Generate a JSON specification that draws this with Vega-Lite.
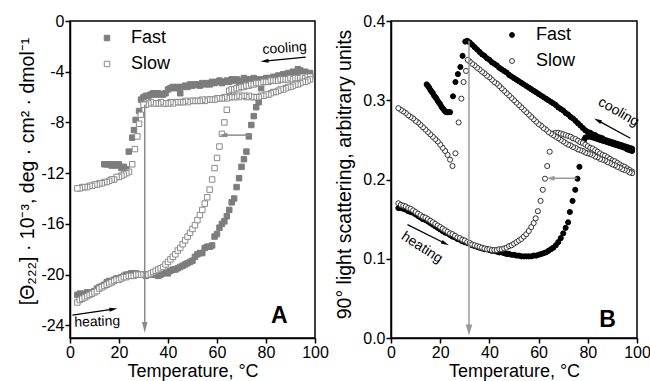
{
  "$schema": "https://vega.github.io/schema/vega-lite/v6.json",
  "padding": {"left": 16, "top": 12, "right": 2, "bottom": 0},
  "config": {
    "font": "Liberation Sans",
    "view": {"stroke": "black", "strokeWidth": 1.5},
    "axis": {"grid": false, "labelFontSize": 16, "titleFontSize": 18, "titleFontWeight": "normal", "labelColor": "black", "titleColor": "black", "domainColor": "black", "tickColor": "black", "domainWidth": 1.5, "tickWidth": 1.5, "tickSize": 5, "labelPadding": 1, "labelFlush": false, "titlePadding": 2},
    "legend": {"symbolStrokeWidth": 1, "labelFontSize": 18, "rowPadding": 8, "labelOffset": 15, "labelColor": "black", "padding": 0, "title": null}
  },
  "datasets": {
    "a": [
      {"series":"Fast","temp":3,"val":-21.6},{"series":"Fast","temp":4,"val":-21.5},{"series":"Fast","temp":5,"val":-21.6},{"series":"Fast","temp":6,"val":-21.5},{"series":"Fast","temp":7,"val":-21.4},{"series":"Fast","temp":8,"val":-21.5},{"series":"Fast","temp":9,"val":-21.4},{"series":"Fast","temp":10,"val":-21.3},{"series":"Fast","temp":11,"val":-21.1},{"series":"Fast","temp":12,"val":-21.0},{"series":"Fast","temp":13,"val":-20.9},{"series":"Fast","temp":14,"val":-20.8},{"series":"Fast","temp":15,"val":-20.6},{"series":"Fast","temp":16,"val":-20.5},{"series":"Fast","temp":17,"val":-20.6},{"series":"Fast","temp":18,"val":-20.4},{"series":"Fast","temp":19,"val":-20.3},{"series":"Fast","temp":20,"val":-20.3},{"series":"Fast","temp":21,"val":-20.2},{"series":"Fast","temp":22,"val":-20.1},{"series":"Fast","temp":23,"val":-20.0},{"series":"Fast","temp":24,"val":-20.0},{"series":"Fast","temp":25,"val":-19.9},{"series":"Fast","temp":26,"val":-19.9},{"series":"Fast","temp":27,"val":-19.9},{"series":"Fast","temp":28,"val":-20.0},{"series":"Fast","temp":29,"val":-20.0},{"series":"Fast","temp":30,"val":-20.0},{"series":"Fast","temp":31,"val":-20.1},{"series":"Fast","temp":32,"val":-20.0},{"series":"Fast","temp":33,"val":-20.0},{"series":"Fast","temp":34,"val":-20.0},{"series":"Fast","temp":35,"val":-20.0},{"series":"Fast","temp":36,"val":-20.1},{"series":"Fast","temp":37,"val":-20.0},{"series":"Fast","temp":38,"val":-19.9},{"series":"Fast","temp":39,"val":-19.8},{"series":"Fast","temp":40,"val":-19.9},{"series":"Fast","temp":41,"val":-19.7},{"series":"Fast","temp":42,"val":-19.6},{"series":"Fast","temp":43,"val":-19.6},{"series":"Fast","temp":44,"val":-19.5},{"series":"Fast","temp":45,"val":-19.4},{"series":"Fast","temp":46,"val":-19.3},{"series":"Fast","temp":47,"val":-19.2},{"series":"Fast","temp":48,"val":-19.1},{"series":"Fast","temp":49,"val":-19.0},{"series":"Fast","temp":50,"val":-18.9},{"series":"Fast","temp":51,"val":-18.6},{"series":"Fast","temp":52,"val":-18.4},{"series":"Fast","temp":53,"val":-18.3},{"series":"Fast","temp":54,"val":-18.3},{"series":"Fast","temp":55,"val":-17.9},{"series":"Fast","temp":56,"val":-17.8},{"series":"Fast","temp":57,"val":-17.8},{"series":"Fast","temp":58,"val":-17.7},{"series":"Fast","temp":59,"val":-17.0},{"series":"Fast","temp":60,"val":-16.8},{"series":"Fast","temp":61,"val":-16.3},{"series":"Fast","temp":62,"val":-16.0},{"series":"Fast","temp":63,"val":-15.8},{"series":"Fast","temp":64,"val":-15.4},{"series":"Fast","temp":65,"val":-14.9},{"series":"Fast","temp":66,"val":-14.3},{"series":"Fast","temp":67,"val":-14.0},{"series":"Fast","temp":68,"val":-13.1},{"series":"Fast","temp":69,"val":-12.4},{"series":"Fast","temp":70,"val":-11.5},{"series":"Fast","temp":71,"val":-10.9},{"series":"Fast","temp":72,"val":-10.3},{"series":"Fast","temp":73,"val":-9.1},{"series":"Fast","temp":74,"val":-8.2},{"series":"Fast","temp":75,"val":-7.5},{"series":"Fast","temp":76,"val":-6.8},{"series":"Fast","temp":77,"val":-6.4},{"series":"Fast","temp":78,"val":-5.3},{"series":"Fast","temp":79,"val":-4.8},{"series":"Fast","temp":80,"val":-4.6},{"series":"Fast","temp":81,"val":-4.5},{"series":"Fast","temp":82,"val":-4.6},{"series":"Fast","temp":83,"val":-4.4},{"series":"Fast","temp":84,"val":-4.5},{"series":"Fast","temp":85,"val":-4.3},{"series":"Fast","temp":86,"val":-4.4},{"series":"Fast","temp":87,"val":-4.2},{"series":"Fast","temp":88,"val":-4.3},{"series":"Fast","temp":89,"val":-4.1},{"series":"Fast","temp":90,"val":-4.2},{"series":"Fast","temp":91,"val":-4.0},{"series":"Fast","temp":92,"val":-4.1},{"series":"Fast","temp":93,"val":-3.8},{"series":"Fast","temp":94,"val":-3.9},{"series":"Fast","temp":95,"val":-4.1},{"series":"Fast","temp":96,"val":-4.0},{"series":"Fast","temp":97,"val":-4.2},{"series":"Fast","temp":98,"val":-4.1},
      {"series":"Fast","temp":98,"val":-4.3},{"series":"Fast","temp":97,"val":-4.4},{"series":"Fast","temp":96,"val":-4.2},{"series":"Fast","temp":95,"val":-4.3},{"series":"Fast","temp":94,"val":-4.1},{"series":"Fast","temp":93,"val":-4.2},{"series":"Fast","temp":92,"val":-4.3},{"series":"Fast","temp":91,"val":-4.4},{"series":"Fast","temp":90,"val":-4.3},{"series":"Fast","temp":89,"val":-4.4},{"series":"Fast","temp":88,"val":-4.5},{"series":"Fast","temp":87,"val":-4.4},{"series":"Fast","temp":86,"val":-4.5},{"series":"Fast","temp":85,"val":-4.6},{"series":"Fast","temp":84,"val":-4.5},{"series":"Fast","temp":83,"val":-4.6},{"series":"Fast","temp":82,"val":-4.7},{"series":"Fast","temp":81,"val":-4.6},{"series":"Fast","temp":80,"val":-4.5},{"series":"Fast","temp":79,"val":-4.7},{"series":"Fast","temp":78,"val":-4.6},{"series":"Fast","temp":77,"val":-4.7},{"series":"Fast","temp":76,"val":-4.6},{"series":"Fast","temp":75,"val":-4.5},{"series":"Fast","temp":74,"val":-4.6},{"series":"Fast","temp":73,"val":-4.7},{"series":"Fast","temp":72,"val":-4.6},{"series":"Fast","temp":71,"val":-4.5},{"series":"Fast","temp":70,"val":-4.7},{"series":"Fast","temp":69,"val":-4.8},{"series":"Fast","temp":68,"val":-4.6},{"series":"Fast","temp":67,"val":-4.7},{"series":"Fast","temp":66,"val":-4.6},{"series":"Fast","temp":65,"val":-4.8},{"series":"Fast","temp":64,"val":-4.7},{"series":"Fast","temp":63,"val":-4.8},{"series":"Fast","temp":62,"val":-4.9},{"series":"Fast","temp":61,"val":-4.7},{"series":"Fast","temp":60,"val":-4.8},{"series":"Fast","temp":59,"val":-4.9},{"series":"Fast","temp":58,"val":-4.8},{"series":"Fast","temp":57,"val":-5.0},{"series":"Fast","temp":56,"val":-4.9},{"series":"Fast","temp":55,"val":-5.0},{"series":"Fast","temp":54,"val":-4.9},{"series":"Fast","temp":53,"val":-5.1},{"series":"Fast","temp":52,"val":-5.0},{"series":"Fast","temp":51,"val":-5.0},{"series":"Fast","temp":50,"val":-5.1},{"series":"Fast","temp":49,"val":-5.0},{"series":"Fast","temp":48,"val":-5.2},{"series":"Fast","temp":47,"val":-5.1},{"series":"Fast","temp":46,"val":-5.2},{"series":"Fast","temp":45,"val":-5.7},{"series":"Fast","temp":44,"val":-5.2},{"series":"Fast","temp":43,"val":-5.3},{"series":"Fast","temp":42,"val":-5.2},{"series":"Fast","temp":41,"val":-5.3},{"series":"Fast","temp":40,"val":-5.4},{"series":"Fast","temp":39,"val":-5.7},{"series":"Fast","temp":38,"val":-5.8},{"series":"Fast","temp":37,"val":-5.8},{"series":"Fast","temp":36,"val":-5.7},{"series":"Fast","temp":35,"val":-5.8},{"series":"Fast","temp":34,"val":-5.7},{"series":"Fast","temp":33,"val":-5.8},{"series":"Fast","temp":32,"val":-5.9},{"series":"Fast","temp":31,"val":-5.9},{"series":"Fast","temp":30,"val":-6.0},{"series":"Fast","temp":29,"val":-6.2},{"series":"Fast","temp":28.2,"val":-7.1},{"series":"Fast","temp":26.8,"val":-7.8},{"series":"Fast","temp":26.1,"val":-8.6},{"series":"Fast","temp":25.4,"val":-9.2},{"series":"Fast","temp":24.0,"val":-10.3},{"series":"Fast","temp":23,"val":-11.7},{"series":"Fast","temp":22,"val":-11.5},{"series":"Fast","temp":21,"val":-11.6},{"series":"Fast","temp":20,"val":-11.3},{"series":"Fast","temp":19,"val":-11.4},{"series":"Fast","temp":18,"val":-11.3},{"series":"Fast","temp":17,"val":-11.4},{"series":"Fast","temp":16,"val":-11.3},{"series":"Fast","temp":15,"val":-11.3},{"series":"Fast","temp":14,"val":-11.3},
      {"series":"Slow","temp":3,"val":-22.2},{"series":"Slow","temp":4,"val":-22.0},{"series":"Slow","temp":5,"val":-21.9},{"series":"Slow","temp":6,"val":-21.8},{"series":"Slow","temp":7,"val":-21.7},{"series":"Slow","temp":8,"val":-21.6},{"series":"Slow","temp":9,"val":-21.5},{"series":"Slow","temp":10,"val":-21.4},{"series":"Slow","temp":11,"val":-21.3},{"series":"Slow","temp":12,"val":-21.1},{"series":"Slow","temp":13,"val":-21.0},{"series":"Slow","temp":14,"val":-20.9},{"series":"Slow","temp":15,"val":-20.8},{"series":"Slow","temp":16,"val":-20.7},{"series":"Slow","temp":17,"val":-20.6},{"series":"Slow","temp":18,"val":-20.5},{"series":"Slow","temp":19,"val":-20.4},{"series":"Slow","temp":20,"val":-20.4},{"series":"Slow","temp":21,"val":-20.3},{"series":"Slow","temp":22,"val":-20.2},{"series":"Slow","temp":23,"val":-20.2},{"series":"Slow","temp":24,"val":-20.1},{"series":"Slow","temp":25,"val":-20.1},{"series":"Slow","temp":26,"val":-20.1},{"series":"Slow","temp":27,"val":-20.0},{"series":"Slow","temp":28,"val":-20.0},{"series":"Slow","temp":29,"val":-20.0},{"series":"Slow","temp":30,"val":-20.0},{"series":"Slow","temp":31,"val":-20.0},{"series":"Slow","temp":32,"val":-20.0},{"series":"Slow","temp":33,"val":-19.9},{"series":"Slow","temp":34,"val":-19.8},{"series":"Slow","temp":35,"val":-19.7},{"series":"Slow","temp":36,"val":-19.6},{"series":"Slow","temp":37,"val":-19.5},{"series":"Slow","temp":38,"val":-19.4},{"series":"Slow","temp":39,"val":-19.2},{"series":"Slow","temp":40,"val":-19.0},{"series":"Slow","temp":41,"val":-18.8},{"series":"Slow","temp":42,"val":-18.6},{"series":"Slow","temp":43,"val":-18.4},{"series":"Slow","temp":44,"val":-18.1},{"series":"Slow","temp":45,"val":-17.9},{"series":"Slow","temp":46,"val":-17.6},{"series":"Slow","temp":47,"val":-17.3},{"series":"Slow","temp":48,"val":-17.0},{"series":"Slow","temp":49,"val":-16.7},{"series":"Slow","temp":50,"val":-16.4},{"series":"Slow","temp":51,"val":-16.1},{"series":"Slow","temp":52,"val":-15.7},{"series":"Slow","temp":53,"val":-15.3},{"series":"Slow","temp":54,"val":-14.9},{"series":"Slow","temp":55,"val":-14.4},{"series":"Slow","temp":56,"val":-13.9},{"series":"Slow","temp":57,"val":-13.3},{"series":"Slow","temp":58,"val":-12.5},{"series":"Slow","temp":59,"val":-11.6},{"series":"Slow","temp":60,"val":-10.8},{"series":"Slow","temp":61,"val":-9.9},{"series":"Slow","temp":62,"val":-8.9},{"series":"Slow","temp":63,"val":-8.0},{"series":"Slow","temp":64,"val":-7.0},
      {"series":"Slow","temp":65,"val":-5.5},{"series":"Slow","temp":66,"val":-5.4},{"series":"Slow","temp":67,"val":-5.4},{"series":"Slow","temp":68,"val":-5.3},{"series":"Slow","temp":69,"val":-5.3},{"series":"Slow","temp":70,"val":-5.2},{"series":"Slow","temp":71,"val":-5.2},{"series":"Slow","temp":72,"val":-5.1},{"series":"Slow","temp":73,"val":-5.1},{"series":"Slow","temp":74,"val":-5.0},{"series":"Slow","temp":75,"val":-5.0},{"series":"Slow","temp":76,"val":-4.9},{"series":"Slow","temp":77,"val":-4.9},{"series":"Slow","temp":78,"val":-4.9},{"series":"Slow","temp":79,"val":-4.8},{"series":"Slow","temp":80,"val":-4.8},{"series":"Slow","temp":81,"val":-4.8},{"series":"Slow","temp":82,"val":-4.7},{"series":"Slow","temp":83,"val":-4.7},{"series":"Slow","temp":84,"val":-4.7},{"series":"Slow","temp":85,"val":-4.7},{"series":"Slow","temp":86,"val":-4.6},{"series":"Slow","temp":87,"val":-4.6},{"series":"Slow","temp":88,"val":-4.6},{"series":"Slow","temp":89,"val":-4.6},{"series":"Slow","temp":90,"val":-4.5},{"series":"Slow","temp":91,"val":-4.6},{"series":"Slow","temp":92,"val":-4.5},{"series":"Slow","temp":93,"val":-4.5},{"series":"Slow","temp":94,"val":-4.5},{"series":"Slow","temp":95,"val":-4.4},{"series":"Slow","temp":96,"val":-4.5},{"series":"Slow","temp":97,"val":-4.4},{"series":"Slow","temp":98,"val":-4.4},
      {"series":"Slow","temp":98,"val":-4.6},{"series":"Slow","temp":97,"val":-4.7},{"series":"Slow","temp":96,"val":-4.8},{"series":"Slow","temp":95,"val":-4.8},{"series":"Slow","temp":94,"val":-4.9},{"series":"Slow","temp":93,"val":-5.0},{"series":"Slow","temp":92,"val":-5.0},{"series":"Slow","temp":91,"val":-5.1},{"series":"Slow","temp":90,"val":-5.2},{"series":"Slow","temp":89,"val":-5.2},{"series":"Slow","temp":88,"val":-5.3},{"series":"Slow","temp":87,"val":-5.4},{"series":"Slow","temp":86,"val":-5.4},{"series":"Slow","temp":85,"val":-5.5},{"series":"Slow","temp":84,"val":-5.6},{"series":"Slow","temp":83,"val":-5.6},{"series":"Slow","temp":82,"val":-5.7},{"series":"Slow","temp":81,"val":-5.8},{"series":"Slow","temp":80,"val":-5.8},{"series":"Slow","temp":79,"val":-5.9},{"series":"Slow","temp":78,"val":-5.9},{"series":"Slow","temp":77,"val":-6.0},{"series":"Slow","temp":76,"val":-6.0},{"series":"Slow","temp":75,"val":-6.0},{"series":"Slow","temp":74,"val":-6.0},{"series":"Slow","temp":73,"val":-5.9},{"series":"Slow","temp":72,"val":-6.0},{"series":"Slow","temp":71,"val":-5.9},{"series":"Slow","temp":70,"val":-5.9},{"series":"Slow","temp":69,"val":-6.0},{"series":"Slow","temp":68,"val":-5.9},{"series":"Slow","temp":67,"val":-6.0},{"series":"Slow","temp":66,"val":-6.0},{"series":"Slow","temp":65,"val":-6.0},{"series":"Slow","temp":64,"val":-6.1},{"series":"Slow","temp":63,"val":-6.0},{"series":"Slow","temp":62,"val":-6.1},{"series":"Slow","temp":61,"val":-6.1},{"series":"Slow","temp":60,"val":-6.1},{"series":"Slow","temp":59,"val":-6.2},{"series":"Slow","temp":58,"val":-6.2},{"series":"Slow","temp":57,"val":-6.2},{"series":"Slow","temp":56,"val":-6.2},{"series":"Slow","temp":55,"val":-6.3},{"series":"Slow","temp":54,"val":-6.2},{"series":"Slow","temp":53,"val":-6.3},{"series":"Slow","temp":52,"val":-6.3},{"series":"Slow","temp":51,"val":-6.3},{"series":"Slow","temp":50,"val":-6.3},{"series":"Slow","temp":49,"val":-6.3},{"series":"Slow","temp":48,"val":-6.4},{"series":"Slow","temp":47,"val":-6.3},{"series":"Slow","temp":46,"val":-6.4},{"series":"Slow","temp":45,"val":-6.4},{"series":"Slow","temp":44,"val":-6.4},{"series":"Slow","temp":43,"val":-6.4},{"series":"Slow","temp":42,"val":-6.5},{"series":"Slow","temp":41,"val":-6.4},{"series":"Slow","temp":40,"val":-6.5},{"series":"Slow","temp":39,"val":-6.5},{"series":"Slow","temp":38,"val":-6.5},{"series":"Slow","temp":37,"val":-6.4},{"series":"Slow","temp":36,"val":-6.5},{"series":"Slow","temp":35,"val":-6.5},{"series":"Slow","temp":34,"val":-6.5},{"series":"Slow","temp":33,"val":-6.4},{"series":"Slow","temp":32,"val":-6.5},{"series":"Slow","temp":31,"val":-6.6},{"series":"Slow","temp":30,"val":-6.6},{"series":"Slow","temp":28.9,"val":-7.4},{"series":"Slow","temp":28.2,"val":-8.1},{"series":"Slow","temp":27.5,"val":-9.1},{"series":"Slow","temp":26.5,"val":-10.1},{"series":"Slow","temp":25.4,"val":-11.3},{"series":"Slow","temp":24.1,"val":-11.9},{"series":"Slow","temp":23,"val":-12.0},{"series":"Slow","temp":22,"val":-12.1},{"series":"Slow","temp":21,"val":-12.2},{"series":"Slow","temp":20,"val":-12.3},{"series":"Slow","temp":19,"val":-12.3},{"series":"Slow","temp":18,"val":-12.5},{"series":"Slow","temp":17,"val":-12.5},{"series":"Slow","temp":16,"val":-12.6},{"series":"Slow","temp":15,"val":-12.7},{"series":"Slow","temp":14,"val":-12.7},{"series":"Slow","temp":13,"val":-12.8},{"series":"Slow","temp":12,"val":-12.8},{"series":"Slow","temp":11,"val":-12.9},{"series":"Slow","temp":10,"val":-12.9},{"series":"Slow","temp":9,"val":-13.0},{"series":"Slow","temp":8,"val":-13.0},{"series":"Slow","temp":7,"val":-13.1},{"series":"Slow","temp":6,"val":-13.1},{"series":"Slow","temp":5,"val":-13.1},{"series":"Slow","temp":4,"val":-13.2},{"series":"Slow","temp":3,"val":-13.2}
    ],
    "b": [
      {"series":"Fast","temp":3,"val":0.164},{"series":"Fast","temp":4,"val":0.164},{"series":"Fast","temp":5,"val":0.163},{"series":"Fast","temp":6,"val":0.162},{"series":"Fast","temp":7,"val":0.160},{"series":"Fast","temp":8,"val":0.159},{"series":"Fast","temp":9,"val":0.158},{"series":"Fast","temp":10,"val":0.156},{"series":"Fast","temp":11,"val":0.154},{"series":"Fast","temp":12,"val":0.152},{"series":"Fast","temp":13,"val":0.150},{"series":"Fast","temp":14,"val":0.149},{"series":"Fast","temp":15,"val":0.147},{"series":"Fast","temp":16,"val":0.145},{"series":"Fast","temp":17,"val":0.143},{"series":"Fast","temp":18,"val":0.141},{"series":"Fast","temp":19,"val":0.139},{"series":"Fast","temp":20,"val":0.137},{"series":"Fast","temp":21,"val":0.135},{"series":"Fast","temp":22,"val":0.133},{"series":"Fast","temp":23,"val":0.132},{"series":"Fast","temp":24,"val":0.130},{"series":"Fast","temp":25,"val":0.128},{"series":"Fast","temp":26,"val":0.127},{"series":"Fast","temp":27,"val":0.125},{"series":"Fast","temp":28,"val":0.124},{"series":"Fast","temp":29,"val":0.122},{"series":"Fast","temp":30,"val":0.121},{"series":"Fast","temp":31,"val":0.120},{"series":"Fast","temp":32,"val":0.119},{"series":"Fast","temp":33,"val":0.117},{"series":"Fast","temp":34,"val":0.116},{"series":"Fast","temp":35,"val":0.115},{"series":"Fast","temp":36,"val":0.114},{"series":"Fast","temp":37,"val":0.113},{"series":"Fast","temp":38,"val":0.112},{"series":"Fast","temp":39,"val":0.112},{"series":"Fast","temp":40,"val":0.111},{"series":"Fast","temp":41,"val":0.110},{"series":"Fast","temp":42,"val":0.110},{"series":"Fast","temp":43,"val":0.109},{"series":"Fast","temp":44,"val":0.108},{"series":"Fast","temp":45,"val":0.108},{"series":"Fast","temp":46,"val":0.107},{"series":"Fast","temp":47,"val":0.106},{"series":"Fast","temp":48,"val":0.106},{"series":"Fast","temp":49,"val":0.105},{"series":"Fast","temp":50,"val":0.105},{"series":"Fast","temp":51,"val":0.104},{"series":"Fast","temp":52,"val":0.104},{"series":"Fast","temp":53,"val":0.103},{"series":"Fast","temp":54,"val":0.103},{"series":"Fast","temp":55,"val":0.103},{"series":"Fast","temp":56,"val":0.103},{"series":"Fast","temp":57,"val":0.103},{"series":"Fast","temp":58,"val":0.104},{"series":"Fast","temp":59,"val":0.104},{"series":"Fast","temp":60,"val":0.105},{"series":"Fast","temp":61,"val":0.106},{"series":"Fast","temp":62,"val":0.107},{"series":"Fast","temp":63,"val":0.108},{"series":"Fast","temp":64,"val":0.110},{"series":"Fast","temp":65,"val":0.112},{"series":"Fast","temp":66,"val":0.114},{"series":"Fast","temp":67,"val":0.117},{"series":"Fast","temp":68,"val":0.121},{"series":"Fast","temp":69,"val":0.126},{"series":"Fast","temp":70,"val":0.132},{"series":"Fast","temp":71,"val":0.139},{"series":"Fast","temp":72,"val":0.146},{"series":"Fast","temp":72.7,"val":0.159},{"series":"Fast","temp":73.8,"val":0.173},{"series":"Fast","temp":74.9,"val":0.187},{"series":"Fast","temp":75.8,"val":0.201},{"series":"Fast","temp":76.6,"val":0.216},{"series":"Fast","temp":78.5,"val":0.250},{"series":"Fast","temp":79,"val":0.253},{"series":"Fast","temp":80,"val":0.254},{"series":"Fast","temp":81,"val":0.254},{"series":"Fast","temp":82,"val":0.253},{"series":"Fast","temp":83,"val":0.252},{"series":"Fast","temp":84,"val":0.251},{"series":"Fast","temp":85,"val":0.250},{"series":"Fast","temp":86,"val":0.249},{"series":"Fast","temp":87,"val":0.248},{"series":"Fast","temp":88,"val":0.247},{"series":"Fast","temp":89,"val":0.246},{"series":"Fast","temp":90,"val":0.245},{"series":"Fast","temp":91,"val":0.244},{"series":"Fast","temp":92,"val":0.243},{"series":"Fast","temp":93,"val":0.242},{"series":"Fast","temp":94,"val":0.241},{"series":"Fast","temp":95,"val":0.240},{"series":"Fast","temp":96,"val":0.238},{"series":"Fast","temp":97,"val":0.237},{"series":"Fast","temp":98,"val":0.236},
      {"series":"Fast","temp":98,"val":0.239},{"series":"Fast","temp":97,"val":0.240},{"series":"Fast","temp":96,"val":0.241},{"series":"Fast","temp":95,"val":0.242},{"series":"Fast","temp":94,"val":0.243},{"series":"Fast","temp":93,"val":0.244},{"series":"Fast","temp":92,"val":0.245},{"series":"Fast","temp":91,"val":0.246},{"series":"Fast","temp":90,"val":0.247},{"series":"Fast","temp":89,"val":0.248},{"series":"Fast","temp":88,"val":0.249},{"series":"Fast","temp":87,"val":0.250},{"series":"Fast","temp":86,"val":0.252},{"series":"Fast","temp":85,"val":0.253},{"series":"Fast","temp":84,"val":0.254},{"series":"Fast","temp":83,"val":0.256},{"series":"Fast","temp":82,"val":0.257},{"series":"Fast","temp":81,"val":0.259},{"series":"Fast","temp":80,"val":0.260},{"series":"Fast","temp":79,"val":0.262},{"series":"Fast","temp":78,"val":0.265},{"series":"Fast","temp":77,"val":0.268},{"series":"Fast","temp":76,"val":0.271},{"series":"Fast","temp":75,"val":0.274},{"series":"Fast","temp":74,"val":0.277},{"series":"Fast","temp":73,"val":0.279},{"series":"Fast","temp":72,"val":0.282},{"series":"Fast","temp":71,"val":0.284},{"series":"Fast","temp":70,"val":0.287},{"series":"Fast","temp":69,"val":0.289},{"series":"Fast","temp":68,"val":0.291},{"series":"Fast","temp":67,"val":0.294},{"series":"Fast","temp":66,"val":0.296},{"series":"Fast","temp":65,"val":0.298},{"series":"Fast","temp":64,"val":0.300},{"series":"Fast","temp":63,"val":0.302},{"series":"Fast","temp":62,"val":0.304},{"series":"Fast","temp":61,"val":0.306},{"series":"Fast","temp":60,"val":0.308},{"series":"Fast","temp":59,"val":0.310},{"series":"Fast","temp":58,"val":0.312},{"series":"Fast","temp":57,"val":0.314},{"series":"Fast","temp":56,"val":0.316},{"series":"Fast","temp":55,"val":0.318},{"series":"Fast","temp":54,"val":0.320},{"series":"Fast","temp":53,"val":0.322},{"series":"Fast","temp":52,"val":0.324},{"series":"Fast","temp":51,"val":0.326},{"series":"Fast","temp":50,"val":0.328},{"series":"Fast","temp":49,"val":0.330},{"series":"Fast","temp":48,"val":0.332},{"series":"Fast","temp":47,"val":0.335},{"series":"Fast","temp":46,"val":0.337},{"series":"Fast","temp":45,"val":0.339},{"series":"Fast","temp":44,"val":0.341},{"series":"Fast","temp":43,"val":0.344},{"series":"Fast","temp":42,"val":0.346},{"series":"Fast","temp":41,"val":0.348},{"series":"Fast","temp":40,"val":0.351},{"series":"Fast","temp":39,"val":0.353},{"series":"Fast","temp":38,"val":0.356},{"series":"Fast","temp":37,"val":0.358},{"series":"Fast","temp":36,"val":0.361},{"series":"Fast","temp":35,"val":0.364},{"series":"Fast","temp":34,"val":0.367},{"series":"Fast","temp":33,"val":0.370},{"series":"Fast","temp":32,"val":0.373},{"series":"Fast","temp":31,"val":0.375},{"series":"Fast","temp":30.2,"val":0.374},{"series":"Fast","temp":29.1,"val":0.356},{"series":"Fast","temp":28.2,"val":0.342},{"series":"Fast","temp":27.2,"val":0.333},{"series":"Fast","temp":26.2,"val":0.323},{"series":"Fast","temp":25.2,"val":0.305},{"series":"Fast","temp":24,"val":0.285},{"series":"Fast","temp":23.5,"val":0.285},{"series":"Fast","temp":23,"val":0.285},{"series":"Fast","temp":22.5,"val":0.285},{"series":"Fast","temp":22,"val":0.286},{"series":"Fast","temp":21.5,"val":0.288},{"series":"Fast","temp":21,"val":0.290},{"series":"Fast","temp":20.5,"val":0.292},{"series":"Fast","temp":20,"val":0.295},{"series":"Fast","temp":19.5,"val":0.297},{"series":"Fast","temp":19,"val":0.299},{"series":"Fast","temp":18.5,"val":0.302},{"series":"Fast","temp":18,"val":0.304},{"series":"Fast","temp":17.5,"val":0.306},{"series":"Fast","temp":17,"val":0.309},{"series":"Fast","temp":16.5,"val":0.311},{"series":"Fast","temp":16,"val":0.313},{"series":"Fast","temp":15.5,"val":0.316},{"series":"Fast","temp":15,"val":0.318},{"series":"Fast","temp":14.5,"val":0.320},
      {"series":"Slow","temp":3,"val":0.170},{"series":"Slow","temp":4,"val":0.168},{"series":"Slow","temp":5,"val":0.167},{"series":"Slow","temp":6,"val":0.166},{"series":"Slow","temp":7,"val":0.164},{"series":"Slow","temp":8,"val":0.163},{"series":"Slow","temp":9,"val":0.161},{"series":"Slow","temp":10,"val":0.159},{"series":"Slow","temp":11,"val":0.157},{"series":"Slow","temp":12,"val":0.155},{"series":"Slow","temp":13,"val":0.153},{"series":"Slow","temp":14,"val":0.152},{"series":"Slow","temp":15,"val":0.150},{"series":"Slow","temp":16,"val":0.148},{"series":"Slow","temp":17,"val":0.146},{"series":"Slow","temp":18,"val":0.144},{"series":"Slow","temp":19,"val":0.142},{"series":"Slow","temp":20,"val":0.140},{"series":"Slow","temp":21,"val":0.138},{"series":"Slow","temp":22,"val":0.136},{"series":"Slow","temp":23,"val":0.134},{"series":"Slow","temp":24,"val":0.132},{"series":"Slow","temp":25,"val":0.131},{"series":"Slow","temp":26,"val":0.129},{"series":"Slow","temp":27,"val":0.127},{"series":"Slow","temp":28,"val":0.126},{"series":"Slow","temp":29,"val":0.124},{"series":"Slow","temp":30,"val":0.123},{"series":"Slow","temp":31,"val":0.121},{"series":"Slow","temp":32,"val":0.120},{"series":"Slow","temp":33,"val":0.118},{"series":"Slow","temp":34,"val":0.117},{"series":"Slow","temp":35,"val":0.116},{"series":"Slow","temp":36,"val":0.115},{"series":"Slow","temp":37,"val":0.114},{"series":"Slow","temp":38,"val":0.113},{"series":"Slow","temp":39,"val":0.112},{"series":"Slow","temp":40,"val":0.112},{"series":"Slow","temp":41,"val":0.111},{"series":"Slow","temp":42,"val":0.111},{"series":"Slow","temp":43,"val":0.111},{"series":"Slow","temp":44,"val":0.112},{"series":"Slow","temp":45,"val":0.112},{"series":"Slow","temp":46,"val":0.113},{"series":"Slow","temp":47,"val":0.114},{"series":"Slow","temp":48,"val":0.116},{"series":"Slow","temp":49,"val":0.117},{"series":"Slow","temp":50,"val":0.119},{"series":"Slow","temp":51,"val":0.121},{"series":"Slow","temp":52,"val":0.123},{"series":"Slow","temp":53,"val":0.125},{"series":"Slow","temp":54,"val":0.128},{"series":"Slow","temp":55,"val":0.131},{"series":"Slow","temp":56,"val":0.135},{"series":"Slow","temp":57,"val":0.140},{"series":"Slow","temp":58,"val":0.145},{"series":"Slow","temp":58.8,"val":0.151},{"series":"Slow","temp":59.7,"val":0.160},{"series":"Slow","temp":60.8,"val":0.173},{"series":"Slow","temp":61.7,"val":0.187},{"series":"Slow","temp":62.6,"val":0.201},{"series":"Slow","temp":63.5,"val":0.217},{"series":"Slow","temp":64.5,"val":0.235},
      {"series":"Slow","temp":66,"val":0.258},{"series":"Slow","temp":67,"val":0.259},{"series":"Slow","temp":68,"val":0.259},{"series":"Slow","temp":69,"val":0.258},{"series":"Slow","temp":70,"val":0.257},{"series":"Slow","temp":71,"val":0.256},{"series":"Slow","temp":72,"val":0.255},{"series":"Slow","temp":73,"val":0.254},{"series":"Slow","temp":74,"val":0.252},{"series":"Slow","temp":75,"val":0.251},{"series":"Slow","temp":76,"val":0.249},{"series":"Slow","temp":77,"val":0.247},{"series":"Slow","temp":78,"val":0.246},{"series":"Slow","temp":79,"val":0.244},{"series":"Slow","temp":80,"val":0.242},{"series":"Slow","temp":81,"val":0.240},{"series":"Slow","temp":82,"val":0.239},{"series":"Slow","temp":83,"val":0.237},{"series":"Slow","temp":84,"val":0.235},{"series":"Slow","temp":85,"val":0.233},{"series":"Slow","temp":86,"val":0.231},{"series":"Slow","temp":87,"val":0.230},{"series":"Slow","temp":88,"val":0.228},{"series":"Slow","temp":89,"val":0.226},{"series":"Slow","temp":90,"val":0.224},{"series":"Slow","temp":91,"val":0.223},{"series":"Slow","temp":92,"val":0.221},{"series":"Slow","temp":93,"val":0.219},{"series":"Slow","temp":94,"val":0.217},{"series":"Slow","temp":95,"val":0.216},{"series":"Slow","temp":96,"val":0.214},{"series":"Slow","temp":97,"val":0.212},{"series":"Slow","temp":98,"val":0.210},
      {"series":"Slow","temp":98,"val":0.208},{"series":"Slow","temp":97,"val":0.209},{"series":"Slow","temp":96,"val":0.211},{"series":"Slow","temp":95,"val":0.212},{"series":"Slow","temp":94,"val":0.213},{"series":"Slow","temp":93,"val":0.215},{"series":"Slow","temp":92,"val":0.216},{"series":"Slow","temp":91,"val":0.218},{"series":"Slow","temp":90,"val":0.219},{"series":"Slow","temp":89,"val":0.221},{"series":"Slow","temp":88,"val":0.222},{"series":"Slow","temp":87,"val":0.224},{"series":"Slow","temp":86,"val":0.225},{"series":"Slow","temp":85,"val":0.226},{"series":"Slow","temp":84,"val":0.228},{"series":"Slow","temp":83,"val":0.229},{"series":"Slow","temp":82,"val":0.231},{"series":"Slow","temp":81,"val":0.232},{"series":"Slow","temp":80,"val":0.233},{"series":"Slow","temp":79,"val":0.234},{"series":"Slow","temp":78,"val":0.236},{"series":"Slow","temp":77,"val":0.237},{"series":"Slow","temp":76,"val":0.238},{"series":"Slow","temp":75,"val":0.240},{"series":"Slow","temp":74,"val":0.241},{"series":"Slow","temp":73,"val":0.243},{"series":"Slow","temp":72,"val":0.244},{"series":"Slow","temp":71,"val":0.246},{"series":"Slow","temp":70,"val":0.248},{"series":"Slow","temp":69,"val":0.250},{"series":"Slow","temp":68,"val":0.252},{"series":"Slow","temp":67,"val":0.254},{"series":"Slow","temp":66,"val":0.256},{"series":"Slow","temp":65,"val":0.258},{"series":"Slow","temp":64,"val":0.260},{"series":"Slow","temp":63,"val":0.263},{"series":"Slow","temp":62,"val":0.265},{"series":"Slow","temp":61,"val":0.268},{"series":"Slow","temp":60,"val":0.270},{"series":"Slow","temp":59,"val":0.273},{"series":"Slow","temp":58,"val":0.276},{"series":"Slow","temp":57,"val":0.279},{"series":"Slow","temp":56,"val":0.282},{"series":"Slow","temp":55,"val":0.285},{"series":"Slow","temp":54,"val":0.288},{"series":"Slow","temp":53,"val":0.291},{"series":"Slow","temp":52,"val":0.294},{"series":"Slow","temp":51,"val":0.297},{"series":"Slow","temp":50,"val":0.300},{"series":"Slow","temp":49,"val":0.303},{"series":"Slow","temp":48,"val":0.306},{"series":"Slow","temp":47,"val":0.309},{"series":"Slow","temp":46,"val":0.312},{"series":"Slow","temp":45,"val":0.315},{"series":"Slow","temp":44,"val":0.318},{"series":"Slow","temp":43,"val":0.321},{"series":"Slow","temp":42,"val":0.323},{"series":"Slow","temp":41,"val":0.326},{"series":"Slow","temp":40,"val":0.329},{"series":"Slow","temp":39,"val":0.331},{"series":"Slow","temp":38,"val":0.334},{"series":"Slow","temp":37,"val":0.336},{"series":"Slow","temp":36,"val":0.339},{"series":"Slow","temp":35,"val":0.341},{"series":"Slow","temp":34,"val":0.344},{"series":"Slow","temp":33,"val":0.346},{"series":"Slow","temp":32,"val":0.349},{"series":"Slow","temp":31.2,"val":0.351},{"series":"Slow","temp":30.5,"val":0.337},{"series":"Slow","temp":29.5,"val":0.323},{"series":"Slow","temp":28.6,"val":0.302},{"series":"Slow","temp":27.5,"val":0.272},{"series":"Slow","temp":26.2,"val":0.233},{"series":"Slow","temp":25,"val":0.217},{"series":"Slow","temp":24,"val":0.225},{"series":"Slow","temp":23,"val":0.231},{"series":"Slow","temp":22,"val":0.236},{"series":"Slow","temp":21,"val":0.240},{"series":"Slow","temp":20,"val":0.244},{"series":"Slow","temp":19,"val":0.248},{"series":"Slow","temp":18,"val":0.251},{"series":"Slow","temp":17,"val":0.254},{"series":"Slow","temp":16,"val":0.257},{"series":"Slow","temp":15,"val":0.260},{"series":"Slow","temp":14,"val":0.263},{"series":"Slow","temp":13,"val":0.266},{"series":"Slow","temp":12,"val":0.269},{"series":"Slow","temp":11,"val":0.272},{"series":"Slow","temp":10,"val":0.274},{"series":"Slow","temp":9,"val":0.277},{"series":"Slow","temp":8,"val":0.279},{"series":"Slow","temp":7,"val":0.281},{"series":"Slow","temp":6,"val":0.284},{"series":"Slow","temp":5,"val":0.286},{"series":"Slow","temp":4,"val":0.288},{"series":"Slow","temp":3,"val":0.290}
    ]
  },
  "spacing": 3,
  "resolve": {"scale": {"x": "independent", "y": "independent", "fill": "independent", "stroke": "independent"}},
  "hconcat": [
    {
      "width": 245,
      "height": 317,
      "layer": [
        {
          "data": {"name": "a"},
          "mark": {"type": "square", "size": 30, "strokeWidth": 1, "opacity": 1},
          "encoding": {
            "x": {"field": "temp", "type": "quantitative", "scale": {"domain": [0, 100], "nice": false},
                  "axis": {"values": [0,10,20,30,40,50,60,70,80,90,100], "labelExpr": "datum.value % 20 === 0 ? datum.label : ''",
                           "tickSize": {"condition": {"test": "datum.value % 20 === 0", "value": 5}, "value": 3},
                           "title": "Temperature, °C"}},
            "y": {"field": "val", "type": "quantitative", "scale": {"domain": [-25, 0], "nice": false},
                  "axis": {"values": [0,-4,-8,-12,-16,-20,-24], "labelExpr": "replace(datum.label, '−', '-')",
                           "title": "[Θ₂₂₂] · 10⁻³, deg · cm² · dmol⁻¹", "titleFontSize": 19.5, "titleX": -33, "titleY": 150}},
            "fill": {"field": "series", "type": "nominal", "scale": {"domain": ["Fast", "Slow"], "range": ["#7d7d7d", "#ffffff"]},
                     "legend": {"orient": "none", "legendX": 28, "legendY": 8, "symbolType": "square", "symbolSize": 30}},
            "stroke": {"field": "series", "type": "nominal", "scale": {"domain": ["Fast", "Slow"], "range": ["#7d7d7d", "#8a8a8a"]},
                       "legend": {"orient": "none", "legendX": 28, "legendY": 8, "symbolType": "square", "symbolSize": 30}}
          }
        },
        {
          "data": {"values": [{"temp": 30.5, "val": -6.6, "temp2": 30.5, "val2": -24.17}, {"temp": 73.5, "val": -9.0, "temp2": 62.6, "val2": -9.0}]},
          "mark": {"type": "rule", "color": "#8a8a8a", "strokeWidth": 1.5},
          "encoding": {"x": {"field": "temp", "type": "quantitative"}, "y": {"field": "val", "type": "quantitative"}, "x2": {"field": "temp2"}, "y2": {"field": "val2"}}
        },
        {
          "data": {"values": [{"temp": 30.5, "val": -24.17}]},
          "mark": {"type": "point", "shape": "M0,1L-0.5,-1L0.5,-1Z", "size": 121, "filled": true, "color": "#8a8a8a", "opacity": 1},
          "encoding": {"x": {"field": "temp", "type": "quantitative"}, "y": {"field": "val", "type": "quantitative"}}
        },
        {
          "data": {"values": [{"temp": 62.6, "val": -9.0}]},
          "mark": {"type": "point", "shape": "M-1,0L1,-0.6L1,0.6Z", "size": 64, "filled": true, "color": "#8a8a8a", "opacity": 1},
          "encoding": {"x": {"field": "temp", "type": "quantitative"}, "y": {"field": "val", "type": "quantitative"}}
        },
        {
          "data": {"values": [{"temp": 96.2, "val": -2.85, "temp2": 79.4, "val2": -3.16}, {"temp": 1, "val": -23.2, "temp2": 17.7, "val2": -22.72}]},
          "mark": {"type": "rule", "color": "black", "strokeWidth": 1.3},
          "encoding": {"x": {"field": "temp", "type": "quantitative"}, "y": {"field": "val", "type": "quantitative"}, "x2": {"field": "temp2"}, "y2": {"field": "val2"}}
        },
        {
          "data": {"values": [{"temp": 79.4, "val": -3.16}]},
          "mark": {"type": "point", "shape": "M-1,0L1,-0.5L1,0.5Z", "size": 64, "filled": true, "color": "black", "opacity": 1, "angle": -5},
          "encoding": {"x": {"field": "temp", "type": "quantitative"}, "y": {"field": "val", "type": "quantitative"}}
        },
        {
          "data": {"values": [{"temp": 17.7, "val": -22.72}]},
          "mark": {"type": "point", "shape": "M1,0L-1,-0.5L-1,0.5Z", "size": 64, "filled": true, "color": "black", "opacity": 1, "angle": -9},
          "encoding": {"x": {"field": "temp", "type": "quantitative"}, "y": {"field": "val", "type": "quantitative"}}
        },
        {
          "data": {"values": [{"temp": 87.6, "val": -2.17, "label": "cooling"}]},
          "mark": {"type": "text", "fontSize": 14, "angle": -4, "align": "center", "baseline": "middle"},
          "encoding": {"x": {"field": "temp", "type": "quantitative"}, "y": {"field": "val", "type": "quantitative"}, "text": {"field": "label"}}
        },
        {
          "data": {"values": [{"temp": 11.1, "val": -23.74, "label": "heating"}]},
          "mark": {"type": "text", "fontSize": 14, "angle": -2, "align": "center", "baseline": "middle"},
          "encoding": {"x": {"field": "temp", "type": "quantitative"}, "y": {"field": "val", "type": "quantitative"}, "text": {"field": "label"}}
        },
        {
          "data": {"values": [{"temp": 85.4, "val": -23.3, "label": "A"}]},
          "mark": {"type": "text", "fontSize": 23, "fontWeight": "bold", "align": "center", "baseline": "middle"},
          "encoding": {"x": {"field": "temp", "type": "quantitative"}, "y": {"field": "val", "type": "quantitative"}, "text": {"field": "label"}}
        }
      ]
    },
    {
      "width": 246,
      "height": 317,
      "layer": [
        {
          "data": {"name": "b"},
          "mark": {"type": "circle", "size": 26, "strokeWidth": 1, "opacity": 1},
          "encoding": {
            "x": {"field": "temp", "type": "quantitative", "scale": {"domain": [0, 100], "nice": false},
                  "axis": {"values": [0,10,20,30,40,50,60,70,80,90,100], "labelExpr": "datum.value % 20 === 0 ? datum.label : ''",
                           "tickSize": {"condition": {"test": "datum.value % 20 === 0", "value": 5}, "value": 3},
                           "title": "Temperature, °C"}},
            "y": {"field": "val", "type": "quantitative", "scale": {"domain": [0, 0.4], "nice": false},
                  "axis": {"values": [0, 0.1, 0.2, 0.3, 0.4], "format": ".1f",
                           "title": "90° light scattering, arbitrary units", "titleFontSize": 19.5, "titleX": -37, "titleY": 153}},
            "fill": {"field": "series", "type": "nominal", "scale": {"domain": ["Fast", "Slow"], "range": ["#000000", "#ffffff"]},
                     "legend": {"orient": "none", "legendX": 112, "legendY": 5, "symbolType": "circle", "symbolSize": 24}},
            "stroke": {"field": "series", "type": "nominal", "scale": {"domain": ["Fast", "Slow"], "range": ["#000000", "#333333"]},
                       "legend": {"orient": "none", "legendX": 112, "legendY": 5, "symbolType": "circle", "symbolSize": 24}}
          }
        },
        {
          "data": {"values": [{"temp": 31.7, "val": 0.375, "temp2": 31.7, "val2": 0.010}, {"temp": 75.6, "val": 0.2016, "temp2": 64.9, "val2": 0.2016}]},
          "mark": {"type": "rule", "color": "#9a9a9a", "strokeWidth": 1.5},
          "encoding": {"x": {"field": "temp", "type": "quantitative"}, "y": {"field": "val", "type": "quantitative"}, "x2": {"field": "temp2"}, "y2": {"field": "val2"}}
        },
        {
          "data": {"values": [{"temp": 31.7, "val": 0.010}]},
          "mark": {"type": "point", "shape": "M0,1L-0.6,-1L0.6,-1Z", "size": 121, "filled": true, "color": "#9a9a9a", "opacity": 1},
          "encoding": {"x": {"field": "temp", "type": "quantitative"}, "y": {"field": "val", "type": "quantitative"}}
        },
        {
          "data": {"values": [{"temp": 64.9, "val": 0.2016}]},
          "mark": {"type": "point", "shape": "M-1,0L1,-0.6L1,0.6Z", "size": 64, "filled": true, "color": "#9a9a9a", "opacity": 1},
          "encoding": {"x": {"field": "temp", "type": "quantitative"}, "y": {"field": "val", "type": "quantitative"}}
        },
        {
          "data": {"values": [{"temp": 97.3, "val": 0.252, "temp2": 84.0, "val2": 0.2746}, {"temp": 6.7, "val": 0.143, "temp2": 22.06, "val2": 0.1192}]},
          "mark": {"type": "rule", "color": "black", "strokeWidth": 1.3},
          "encoding": {"x": {"field": "temp", "type": "quantitative"}, "y": {"field": "val", "type": "quantitative"}, "x2": {"field": "temp2"}, "y2": {"field": "val2"}}
        },
        {
          "data": {"values": [{"temp": 84.0, "val": 0.2746}]},
          "mark": {"type": "point", "shape": "M-1,0L1,-0.5L1,0.5Z", "size": 64, "filled": true, "color": "black", "opacity": 1, "angle": 28},
          "encoding": {"x": {"field": "temp", "type": "quantitative"}, "y": {"field": "val", "type": "quantitative"}}
        },
        {
          "data": {"values": [{"temp": 22.06, "val": 0.1192}]},
          "mark": {"type": "point", "shape": "M1,0L-1,-0.5L-1,0.5Z", "size": 64, "filled": true, "color": "black", "opacity": 1, "angle": 26},
          "encoding": {"x": {"field": "temp", "type": "quantitative"}, "y": {"field": "val", "type": "quantitative"}}
        },
        {
          "data": {"values": [{"temp": 92.5, "val": 0.285, "label": "cooling"}]},
          "mark": {"type": "text", "fontSize": 14, "angle": 30, "align": "center", "baseline": "middle"},
          "encoding": {"x": {"field": "temp", "type": "quantitative"}, "y": {"field": "val", "type": "quantitative"}, "text": {"field": "label"}}
        },
        {
          "data": {"values": [{"temp": 12.6, "val": 0.114, "label": "heating"}]},
          "mark": {"type": "text", "fontSize": 14, "angle": 33, "align": "center", "baseline": "middle"},
          "encoding": {"x": {"field": "temp", "type": "quantitative"}, "y": {"field": "val", "type": "quantitative"}, "text": {"field": "label"}}
        },
        {
          "data": {"values": [{"temp": 88, "val": 0.023, "label": "B"}]},
          "mark": {"type": "text", "fontSize": 23, "fontWeight": "bold", "align": "center", "baseline": "middle"},
          "encoding": {"x": {"field": "temp", "type": "quantitative"}, "y": {"field": "val", "type": "quantitative"}, "text": {"field": "label"}}
        }
      ]
    }
  ]
}
